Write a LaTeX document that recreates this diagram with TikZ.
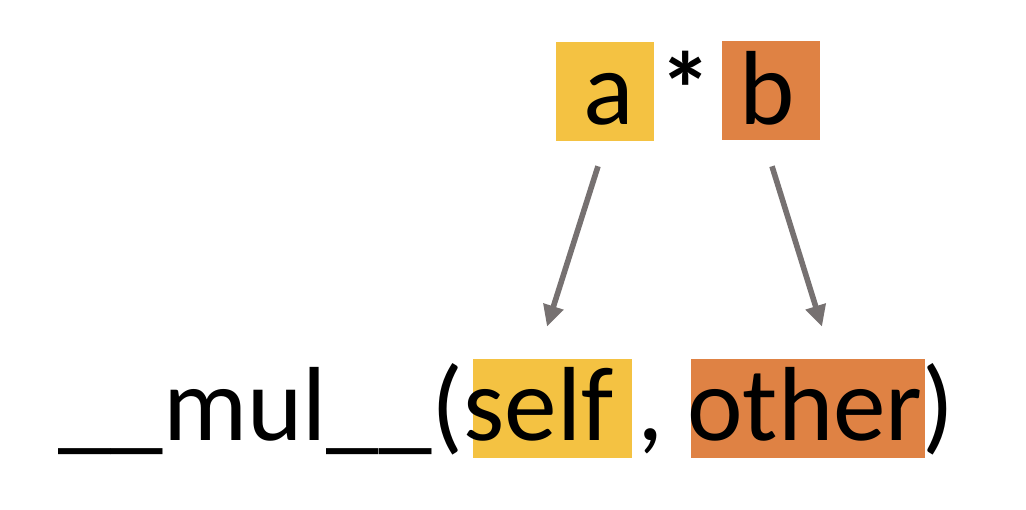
\documentclass[tikz,border=0pt]{standalone}
\usepackage{fontspec}
\setmainfont{Carlito}
\usetikzlibrary{arrows.meta,calc}
\definecolor{hlyellow}{RGB}{244,194,66}
\definecolor{hlorange}{RGB}{223,130,68}
\definecolor{arrgray}{RGB}{118,113,113}
\tikzset{
  bigtxt/.style={font=\fontsize{79}{95}\selectfont, inner sep=0pt, text=black},
  hlbox/.style={inner sep=0pt, minimum height=74.25pt},
  ptr/.style={draw=arrgray, line width=4.2pt, -{Triangle[length=16pt,width=15pt]}}
}
\begin{document}
\begin{tikzpicture}[x=0.75pt,y=0.75pt,yscale=-1,xscale=1]
\useasboundingbox (0,0) rectangle (1026,510);

%Shape: Rectangle [highlight a]
\node [hlbox, fill=hlyellow, minimum width=73.5pt] (abox) at (605,91.5) {};
%Shape: Rectangle [highlight b]
\node [hlbox, fill=hlorange, minimum width=73.5pt] (bbox) at (771,90.5) {};
%Shape: Rectangle [highlight self]
\node [hlbox, fill=hlyellow, minimum width=119.25pt] (selfbox) at (552.5,408.5) {};
%Shape: Rectangle [highlight other]
\node [hlbox, fill=hlorange, minimum width=175.5pt] (otherbox) at (808,408.5) {};

% Text Node
\node [bigtxt, anchor=base] (a) at (609,125) {a};
% Text Node
\node [bigtxt, anchor=base] (star) at (686,127) {\bfseries *};
% Text Node
\node [bigtxt, anchor=base] (b) at (767,125) {b};
% Text Node
\node [bigtxt, anchor=base west] (call) at (58,440) {\_\_mul\_\_(self , other)};

% Connection
\draw [ptr] ($(abox.south)+(-7,25)$) -- ($(selfbox.north)+(-5.5,-32)$);
% Connection
\draw [ptr] ($(bbox.south)+(1,26)$) -- ($(otherbox.north)+(14,-32)$);

\end{tikzpicture}
\end{document}
